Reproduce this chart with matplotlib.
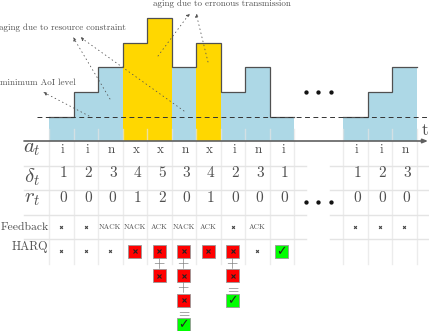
import matplotlib
matplotlib.use("Agg")
import matplotlib.pyplot as plt
from matplotlib.patches import Rectangle

plt.rcParams['font.family'] = ['cmr10', 'DejaVu Sans']
plt.rcParams['mathtext.fontset'] = 'cm'
plt.rcParams['axes.formatter.use_mathtext'] = True

# ---------- data ----------
slots = [0, 1, 2, 3, 4, 5, 6, 7, 8, 9, 12, 13, 14]
actions = ['i', 'i', 'n', 'x', 'x', 'n', 'x', 'i', 'n', 'i', 'i', 'i', 'n']
delta = [1, 2, 3, 4, 5, 3, 4, 2, 3, 1, 1, 2, 3]
retx = [0, 0, 0, 1, 2, 0, 1, 0, 0, 0, 0, 0, 0]
feedback = ['x', 'x', 'NACK', 'NACK', 'ACK', 'NACK', 'ACK', 'x', 'ACK', '', 'x', 'x', 'x']
harq = ['x', 'x', 'x', ['F'], ['F', 'F'], ['F', 'F', 'F', 'S'], ['F'], ['F', 'F', 'S'], 'x', ['S'], '', '', '']
row_labels = ['$a_t$', r'$\delta_t$', '$r_t$', 'Feedback', 'HARQ']

BLUE, GOLD = '#ADD8E6', '#FFD700'
TXT = '#505050'
GRID = '#e4e4e4'
U = 24.5          # pixels per slot
W, H = 429, 331
X0, Y0 = 49, 141

fig = plt.figure(figsize=(W / 100, H / 100), dpi=100)
ax = fig.add_axes([0, 0, 1, 1])
ax.set_xlim(-X0 / U, (W - X0) / U)
ax.set_ylim((Y0 - H) / U, Y0 / U)
ax.axis('off')


def px(x, y):
    return (x - X0) / U, (Y0 - y) / U


# bars
for s, a, d in zip(slots, actions, delta):
    ax.bar(s, d, width=1.0, align='edge', color=GOLD if a == 'x' else BLUE, lw=0, zorder=1)

# step outline of each run of consecutive slots
runs = [(slots[:10], delta[:10]), (slots[10:], delta[10:])]
for ss, dd in runs:
    xs, ys = [], []
    for s, d in zip(ss, dd):
        xs += [s, s + 1]
        ys += [d, d]
    ax.plot(xs, ys, color='#505050', lw=0.9, solid_joinstyle='miter', zorder=4)

# minimum level
ax.plot([px(37, 0)[0], px(W, 0)[0]], [1, 1], color='#333333', lw=0.7, dashes=(5, 3.6), zorder=5)

# grid
for r in range(1, 5):
    for a, b in [(px(24, 0)[0], px(306, 0)[0]), (px(330, 0)[0], px(W, 0)[0])]:
        ax.plot([a, b], [-r, -r], color=GRID, lw=1.0, zorder=2)
for s in list(range(0, 11)) + [12, 13, 14, 15]:
    ax.plot([s, s], [-5, 0.5], color=GRID, lw=1.0, alpha=0.7, zorder=2)

# time axis
ax.annotate('', xy=px(428, 141), xytext=px(24, 141),
            arrowprops=dict(arrowstyle='-|>,head_width=0.12,head_length=0.3', color='#606060', lw=1.2,
                            shrinkA=0, shrinkB=0), zorder=6)
ax.text(*px(425, 130), 't', fontsize=12.5, color=TXT, ha='center', va='center')

# row labels
ax.text(*px(32, 149), row_labels[0], fontsize=15, color=TXT, ha='center', va='center')
ax.text(*px(32, 177), row_labels[1], fontsize=15, color=TXT, ha='center', va='center')
ax.text(*px(32, 199), row_labels[2], fontsize=15, color=TXT, ha='center', va='center')
ax.text(*px(0.5, 227), row_labels[3], fontsize=8.4, color=TXT, ha='left', va='center')
ax.text(*px(48, 247), row_labels[4], fontsize=8.8, color=TXT, ha='right', va='center')


def small_x(x, y, ms=2.0, color='#444444'):
    ax.plot([x], [y], marker='x', ms=ms, mew=0.8, color=color, ls='none', zorder=8)


# table cells
for s, a, d, r, f, h in zip(slots, actions, delta, retx, feedback, harq):
    ax.text(s + 0.56, -0.37, a, fontsize=9.5, color=TXT, ha='center', va='center')
    ax.text(s + 0.6, -1.31, str(d), fontsize=11, color=TXT, ha='center', va='center')
    ax.text(s + 0.6, -2.33, str(r), fontsize=11, color=TXT, ha='center', va='center')
    if f == 'x':
        small_x(s + 0.5, -3.5)
    elif f:
        ax.text(s + 0.5, -3.5, f, fontsize=5.4, color=TXT, ha='center', va='center')
    if h == 'x':
        small_x(s + 0.5, -4.5)
    elif h:
        for i, st in enumerate(h):
            yc = -4.5 - i
            ax.add_patch(Rectangle((s + 0.5 - 0.27, yc - 0.27), 0.54, 0.54,
                                   facecolor='#FF0000' if st == 'F' else '#00FF00',
                                   edgecolor='#999999', lw=0.6, zorder=7))
            if st == 'F':
                small_x(s + 0.5, yc, ms=2.8, color='#222222')
            else:
                ax.text(s + 0.5, yc, '\u2713', family='DejaVu Sans', fontsize=9,
                        color='#222222', ha='center', va='center', zorder=8)
            if i < len(h) - 1:
                sign = '$=$' if h[i + 1] == 'S' else '$+$'
                ax.text(s + 0.5, yc - 0.5, sign, fontsize=10.5, color='#777777',
                        ha='center', va='center', zorder=8)

# ellipses
for xp in (305.5, 318, 330.5):
    for yp in (92, 202):
        ax.plot(*px(xp, yp), marker='o', ms=2.1, color='#111111', ls='none', zorder=8)

# annotations
ax.text(*px(153, 4), 'aging due to erronous transmission', fontsize=6.5, color=TXT, ha='left', va='center')
ax.text(*px(-1, 28), 'aging due to resource constraint', fontsize=6.5, color=TXT, ha='left', va='center')
ax.text(*px(0, 83), 'minimum AoI level', fontsize=6.5, color=TXT, ha='left', va='center')

arrows = [((89, 116), (43, 92)), ((110, 99), (73, 37)), ((184, 111), (80, 37)),
          ((158, 56), (190, 13)), ((208, 62), (196, 13))]
for start, end in arrows:
    ax.annotate('', xy=px(*end), xytext=px(*start), zorder=9,
                arrowprops=dict(arrowstyle='-|>,head_width=0.1,head_length=0.22', color='#555555',
                                lw=0.6, linestyle=(0, (1, 4)), shrinkA=0, shrinkB=0))

fig.savefig('out.png', dpi=100)
